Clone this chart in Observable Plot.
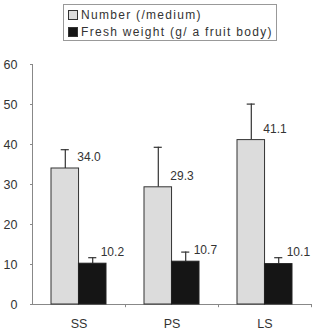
<!DOCTYPE html>
<html>
<head>
<meta charset="utf-8">
<script src="https://cdn.jsdelivr.net/npm/d3@7"></script>
<script src="https://cdn.jsdelivr.net/npm/@observablehq/plot@0.6"></script>
<style>
  html, body { margin: 0; padding: 0; background: #fff; }
  #wrap { position: relative; width: 314px; height: 335px; font-family: "Liberation Sans", Arial, sans-serif; }
  #legend { position: absolute; left: 63px; top: 4px; width: 212px; height: 35px; border: 1px solid #999; box-sizing: content-box; }
  .item { position: absolute; left: 4px; display: flex; align-items: center; font-size: 12px; letter-spacing: 1.3px; color: #333; white-space: nowrap; }
  .sw { width: 8px; height: 8px; border: 1px solid #333; margin-right: 3px; }
  #chart { position: absolute; left: 0; top: 45px; }
</style>
</head>
<body>
<div id="wrap">
  <div id="legend"></div>
  <div id="chart"></div>
</div>
<script>
const categories = ["SS", "PS", "LS"];
const numberMean = [34.0, 29.3, 41.1];
const numberSD = [4.7, 10.0, 9.0];
const weightMean = [10.2, 10.7, 10.1];
const weightSD = [1.5, 2.4, 1.6];
const numberLabels = ["34.0", "29.3", "41.1"];
const weightLabels = ["10.2", "10.7", "10.1"];
const yTicks = [0, 10, 20, 30, 40, 50, 60];
const seriesNames = ["Number (/medium)", "Fresh weight (g/ a fruit body)"];
const seriesColors = ["#dcdcdc", "#151515"];

const numberRows = categories.map((c, i) => ({cat: c, v: numberMean[i], sd: numberSD[i], label: numberLabels[i]}));
const weightRows = categories.map((c, i) => ({cat: c, v: weightMean[i], sd: weightSD[i], label: weightLabels[i]}));

// legend
const legend = document.getElementById("legend");
seriesNames.forEach((name, i) => {
  const it = document.createElement("div");
  it.className = "item";
  it.style.top = (i === 0 ? 3 : 20) + "px";
  const sw = document.createElement("span");
  sw.className = "sw";
  sw.style.background = seriesColors[i];
  it.appendChild(sw);
  it.appendChild(document.createTextNode(name));
  legend.appendChild(it);
});

const half = 13.7;
const capW = 8;
const bw = 54.9;

const plot = Plot.plot({
  width: 314,
  height: 290,
  marginLeft: 32,
  marginRight: 3,
  marginTop: 19,
  marginBottom: 31,
  style: {fontFamily: "Liberation Sans, Arial, sans-serif", color: "#333", background: "#fff"},
  x: {domain: categories, paddingInner: 0.41, paddingOuter: 0.205, label: null},
  y: {domain: [0, 60], label: null},
  marks: [
    Plot.frame({anchor: "left", stroke: "#888"}),
    Plot.ruleY([0], {stroke: "#888"}),
    Plot.ruleX(categories, {x: d => d, y1: 0, y2: -0.8, dx: 46.5, stroke: "#888"}),
    Plot.axisY({ticks: yTicks, tickSize: 2, tickPadding: 13, fontSize: 12.5, stroke: "#888", fill: "#333"}),
    Plot.axisX({tickSize: 0, tickPadding: 15, fontSize: 12.5, fill: "#333", style: "letter-spacing:2.5px"}),
    // error bars (upward)
    Plot.ruleX(numberRows, {x: "cat", y1: "v", y2: d => d.v + d.sd, dx: -half, stroke: "#333", strokeWidth: 1.2}),
    Plot.tickY(numberRows, {x: "cat", y: d => d.v + d.sd, insetLeft: half - capW / 2, insetRight: bw - half - capW / 2, stroke: "#333", strokeWidth: 1.2}),
    Plot.ruleX(weightRows, {x: "cat", y1: "v", y2: d => d.v + d.sd, dx: half, stroke: "#333", strokeWidth: 1.2}),
    Plot.tickY(weightRows, {x: "cat", y: d => d.v + d.sd, insetLeft: bw - half - capW / 2, insetRight: half - capW / 2, stroke: "#333", strokeWidth: 1.2}),
    // bars
    Plot.barY(numberRows, {x: "cat", y: "v", insetRight: bw / 2, fill: seriesColors[0], stroke: "#333", strokeWidth: 1}),
    Plot.barY(weightRows, {x: "cat", y: "v", insetLeft: bw / 2, fill: seriesColors[1], stroke: "#222", strokeWidth: 1}),
    // value labels
    Plot.text(numberRows, {x: "cat", y: "v", text: "label", dx: -half + 12, dy: -11, textAnchor: "start", fontSize: 12, fill: "#333"}),
    Plot.text(weightRows, {x: "cat", y: "v", text: "label", dx: half + 8, dy: -12, textAnchor: "start", fontSize: 12, fill: "#333"})
  ]
});
document.getElementById("chart").appendChild(plot);
</script>
</body>
</html>
